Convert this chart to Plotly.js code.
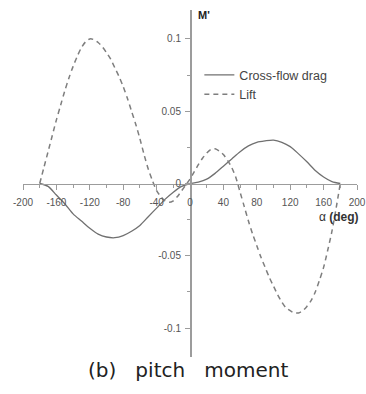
<!DOCTYPE html>
<html>
<head>
<meta charset="utf-8">
<script src="https://cdn.plot.ly/plotly-3.0.1.min.js"></script>
<style>
html,body{margin:0;padding:0;background:#fff;}
#chart{width:366px;height:394px;}
</style>
</head>
<body>
<div id="chart"></div>
<script>
// Angle of attack (deg) for the cross-flow drag curve
var alphaDrag = [-180,-170,-160,-150,-140,-130,-120,-110,-100,-90,-80,-70,-60,-50,-40,-30,-20,-10,0,
                 10,20,30,40,50,60,70,80,90,100,110,120,130,140,150,160,170,180];
var dragM = [0,-0.002,-0.008,-0.014,-0.021,-0.026,-0.031,-0.035,-0.037,-0.0375,-0.036,-0.033,-0.029,-0.023,-0.017,-0.011,-0.006,-0.002,0,
             0.001,0.003,0.007,0.012,0.017,0.022,0.026,0.0285,0.0295,0.030,0.0285,0.0255,0.0205,0.015,0.009,0.0045,0.0013,0];

// Angle of attack (deg) for the lift curve
var alphaLift = [-180,-175,-170,-165,-160,-155,-150,-145,-140,-135,-130,-125,-120,-115,-110,-105,-100,-95,-90,-85,-80,-75,-70,-65,-60,-55,-50,-45,-40,-35,-30,-25,-20,-15,-10,-5,0,
                 5,10,15,20,25,30,35,40,45,50,55,60,65,70,75,80,85,90,95,100,105,110,115,120,125,130,135,140,145,150,155,160,165,170,175,180];
var liftM = [0,0.011,0.022,0.033,0.044,0.054,0.064,0.073,0.081,0.088,0.094,0.098,0.100,0.0995,0.0975,0.0945,0.0905,0.086,0.080,0.074,0.067,0.059,0.050,0.041,0.031,0.020,0.010,0.002,-0.005,-0.009,-0.012,-0.013,-0.012,-0.009,-0.005,-0.001,0.003,
             0.008,0.013,0.0175,0.021,0.0235,0.024,0.0225,0.020,0.016,0.011,0.004,-0.006,-0.016,-0.026,-0.035,-0.043,-0.051,-0.058,-0.065,-0.071,-0.077,-0.082,-0.086,-0.088,-0.0895,-0.0895,-0.088,-0.085,-0.081,-0.075,-0.067,-0.058,-0.046,-0.033,-0.017,0];

var xTickVals = [-200,-160,-120,-80,-40,0,40,80,120,160,200];
var xTickText = ['-200','-160','-120','-80','-40','0','40','80','120','160','200'];
var xMinorVals = [-180,-140,-100,-60,-20,20,60,100,140,180];
var yTickVals = [-0.1,-0.05,0,0.05,0.1];
var yTickText = ['-0.1','-0.05','0','0.05','0.1'];
var yMinorVals = [-0.075,-0.025,0.025,0.075];

var seriesNames = ['Cross-flow drag','Lift'];

var axisColor = '#9c9c9c';
var tickFont = {family:'"Liberation Sans", Arial, sans-serif', size:10, color:'#555'};

var traces = [
  {x: alphaDrag, y: dragM, name: seriesNames[0], type:'scatter', mode:'lines',
   line:{color:'#707070', width:1.3, shape:'spline', smoothing:0.8}},
  {x: alphaLift, y: liftM, name: seriesNames[1], type:'scatter', mode:'lines',
   line:{color:'#7e7e7e', width:1.5, dash:'5px,4px', shape:'spline', smoothing:0.8}}
];

var layout = {
  width:366, height:394,
  margin:{l:23, r:8.5, t:10, b:37, pad:0},
  paper_bgcolor:'#fff', plot_bgcolor:'rgba(0,0,0,0)',
  showlegend:true,
  legend:{x:0.528, y:0.855, xanchor:'left', yanchor:'top', bgcolor:'rgba(0,0,0,0)',
          borderwidth:0, font:{family:'"Liberation Sans", Arial, sans-serif', size:12.5, color:'#444'},
          tracegroupgap:0},
  xaxis:{range:[-200,200], anchor:'free', position:0.5, showline:true, linecolor:axisColor, linewidth:1.5,
         showgrid:false, zeroline:false, ticks:'outside', ticklen:5, tickwidth:1, tickcolor:axisColor,
         tickvals:xTickVals, ticktext:xTickText, tickfont:tickFont, ticklabelstandoff:4,
         minor:{tickvals:xMinorVals, ticks:'outside', ticklen:3, tickcolor:axisColor, tickwidth:1, showgrid:false},
         fixedrange:true},
  yaxis:{range:[-0.12,0.12], anchor:'free', position:0.5, showline:true, linecolor:axisColor, linewidth:1.5,
         showgrid:false, zeroline:false, ticks:'outside', ticklen:5, tickwidth:1, tickcolor:axisColor,
         tickvals:yTickVals, ticktext:yTickText, tickfont:tickFont, ticklabelstandoff:2,
         minor:{tickvals:yMinorVals, ticks:'outside', ticklen:3, tickcolor:axisColor, tickwidth:1, showgrid:false},
         fixedrange:true},
  annotations:[
    {text:"<b>M'</b>", xref:'paper', yref:'paper', x:0.5185, y:0.9856, xanchor:'left', yanchor:'middle',
     showarrow:false, font:{family:'"Liberation Sans", Arial, sans-serif', size:11, color:'#222'}},
    {text:"α <b>(deg)</b>", xref:'paper', yref:'paper', x:1.012, y:0.403, xanchor:'right', yanchor:'middle',
     showarrow:false, font:{family:'"Liberation Sans", Arial, sans-serif', size:12, color:'#333'}},
    {text:"(b)&nbsp;&nbsp; pitch&nbsp;&nbsp; moment", xref:'paper', yref:'paper', x:0.4955, y:-0.0384, xanchor:'center', yanchor:'middle',
     showarrow:false, font:{family:'"DejaVu Sans", sans-serif', size:20, color:'#222'}}
  ]
};

Plotly.newPlot('chart', traces, layout, {displayModeBar:false, staticPlot:true});
</script>
</body>
</html>
